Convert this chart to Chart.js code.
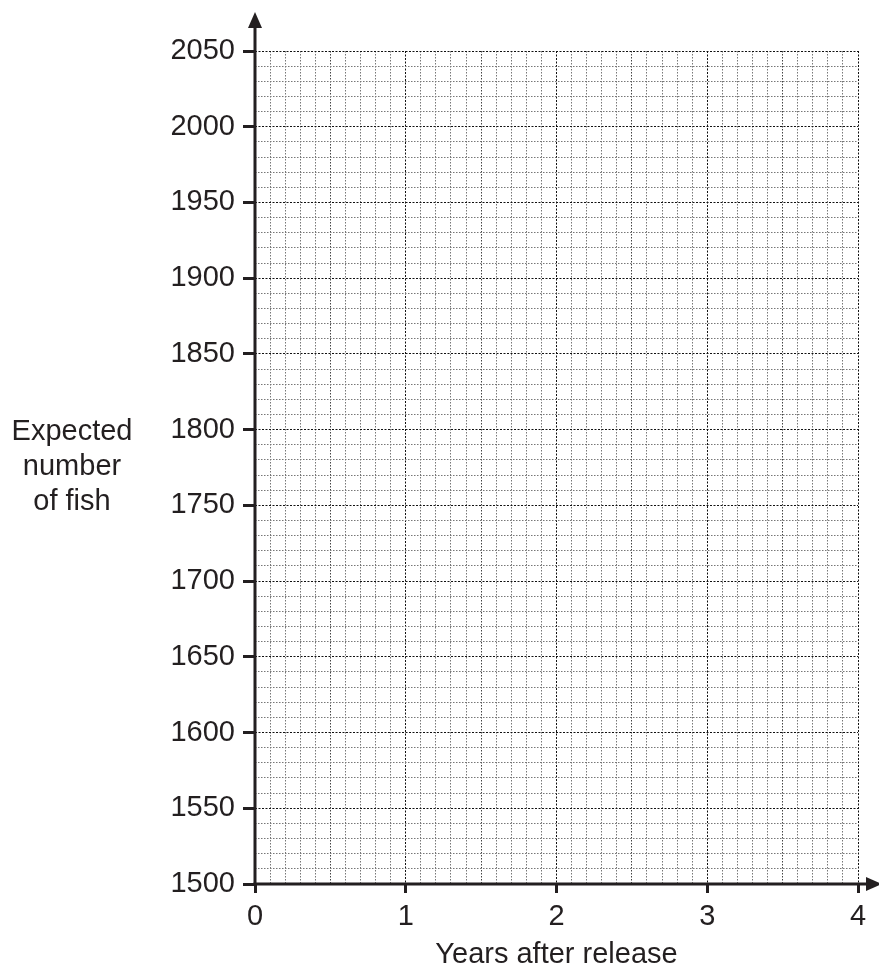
<!DOCTYPE html>
<html>
<head>
<meta charset="utf-8">
<script src="https://cdn.jsdelivr.net/npm/chart.js@4/dist/chart.umd.min.js"></script>
<style>
html,body{margin:0;padding:0;background:#fff;}
canvas{display:block;}
</style>
</head>
<body>
<canvas id="c" width="879" height="968"></canvas>
<script>
// Axis ranges and tick labels
const xTickLabels = ['0', '1', '2', '3', '4'];
const yTickLabels = ['1500', '1550', '1600', '1650', '1700', '1750', '1800', '1850', '1900', '1950', '2000', '2050'];
const xMinorStep = 0.1;
const yMinorStep = 10;
const xTitle = 'Years after release';
const yTitleLines = ['Expected', 'number', 'of fish'];
const seriesValues = []; // blank graph paper: no plotted values

const xMin = Number(xTickLabels[0]), xMax = Number(xTickLabels[xTickLabels.length - 1]);
const yMin = Number(yTickLabels[0]), yMax = Number(yTickLabels[yTickLabels.length - 1]);
const yMajor = Number(yTickLabels[1]) - Number(yTickLabels[0]);

const INK = '#231f20';
const FONT = "'Liberation Sans', Arial, sans-serif";
const FSIZE = 29;

function isXMajor(v){ return Math.abs(v - Math.round(v)) < 1e-6; }
function isXHalf(v){ return Math.abs(v*2 - Math.round(v*2)) < 1e-6; }
function isYMajor(v){ return Math.abs(((v - yMin) % yMajor)) < 1e-6; }

const axesPlugin = {
  id: 'axesArrows',
  afterDraw(chart){
    const c = chart.ctx;
    const xs = chart.scales.x, ys = chart.scales.y;
    const x0 = xs.getPixelForValue(xMin), y0 = ys.getPixelForValue(yMin);
    c.save();
    c.strokeStyle = INK; c.fillStyle = INK; c.lineWidth = 3; c.lineCap = 'butt';
    // y axis
    c.beginPath(); c.moveTo(x0, y0 + 1.5); c.lineTo(x0, 26); c.stroke();
    c.beginPath(); c.moveTo(x0, 12); c.lineTo(x0 - 7, 28); c.lineTo(x0 + 7, 28); c.closePath(); c.fill();
    // x axis
    c.beginPath(); c.moveTo(x0 - 1.5, y0); c.lineTo(868, y0); c.stroke();
    c.beginPath(); c.moveTo(882, y0); c.lineTo(866, y0 - 7); c.lineTo(866, y0 + 7); c.closePath(); c.fill();
    // titles
    c.font = FSIZE + 'px ' + FONT;
    c.textAlign = 'center'; c.textBaseline = 'alphabetic';
    c.fillText(xTitle, (xs.left + xs.right) / 2, 963);
    const base = [440, 475, 510];
    yTitleLines.forEach((t, i) => c.fillText(t, 72, base[i]));
    c.restore();
  }
};

new Chart(document.getElementById('c'), {
  type: 'scatter',
  data: { datasets: [{ data: seriesValues, showLine: false }] },
  options: {
    responsive: false,
    animation: false,
    events: [],
    layout: { padding: { top: 51, right: 21, left: 0, bottom: 0 } },
    plugins: { legend: { display: false }, tooltip: { enabled: false } },
    scales: {
      x: {
        type: 'linear', min: xMin, max: xMax,
        afterFit(s){ s.height = 84; },
        ticks: {
          stepSize: xMinorStep, autoSkip: false, maxRotation: 0,
          padding: 7, color: INK, font: { family: FONT, size: FSIZE },
          callback(v){ return isXMajor(v) ? String(Math.round(v)) : ''; }
        },
        grid: {
          lineWidth: 1,
          color(ctx){ const v = ctx.tick.value; return isXMajor(v) ? '#111' : (isXHalf(v) ? '#444' : '#777'); },
          tickLength: 9, tickWidth: 3, tickBorderDash: [],
          tickColor(ctx){ return isXMajor(ctx.tick.value) ? INK : 'rgba(0,0,0,0)'; }
        },
        border: { display: false, dash(ctx){ return isXMajor(ctx.tick.value) ? [2, 1.5] : [1.5, 1.5]; } }
      },
      y: {
        type: 'linear', min: yMin, max: yMax,
        afterFit(s){ s.width = 255; },
        ticks: {
          stepSize: yMinorStep, autoSkip: false,
          padding: 8, color: INK, font: { family: FONT, size: FSIZE },
          callback(v){ return isYMajor(v) ? String(Math.round(v)) : ''; }
        },
        grid: {
          lineWidth: 1,
          color(ctx){ return isYMajor(ctx.tick.value) ? '#111' : '#777'; },
          tickLength: 12, tickWidth: 3, tickBorderDash: [],
          tickColor(ctx){ return isYMajor(ctx.tick.value) ? INK : 'rgba(0,0,0,0)'; }
        },
        border: { display: false, dash(ctx){ return isYMajor(ctx.tick.value) ? [2, 1.5] : [1.5, 1.5]; } }
      }
    }
  },
  plugins: [axesPlugin]
});
</script>
</body>
</html>
